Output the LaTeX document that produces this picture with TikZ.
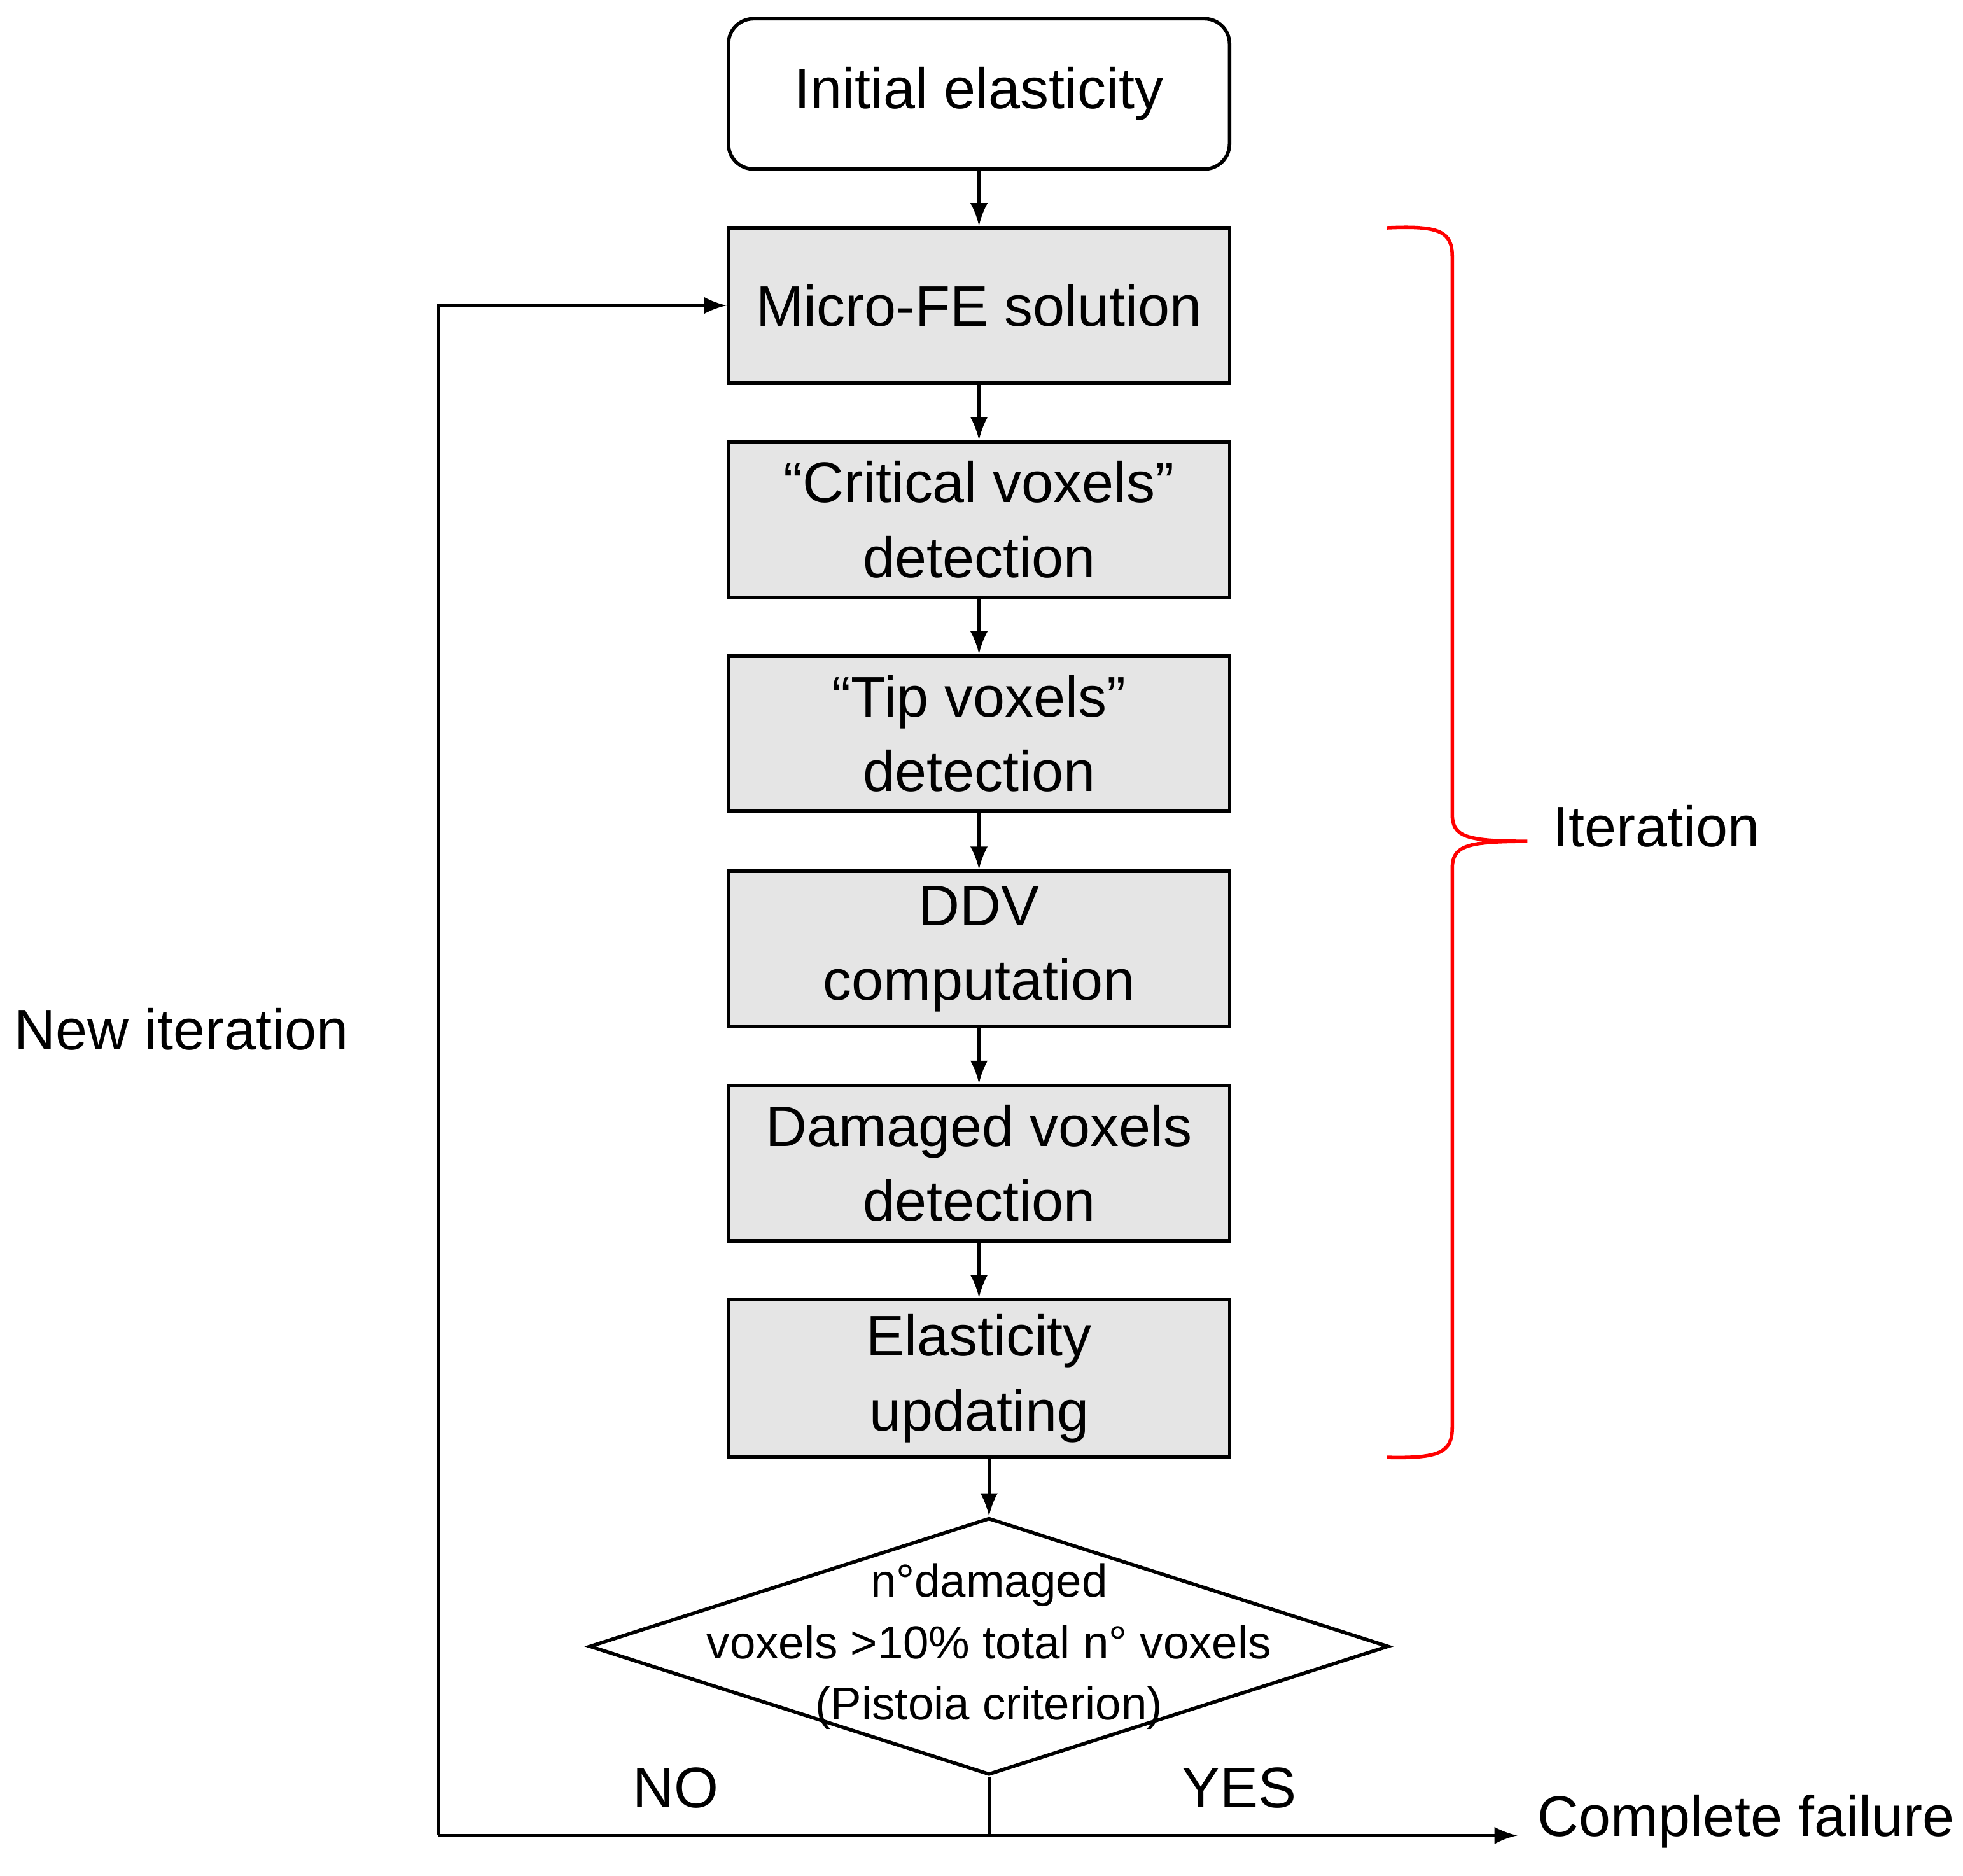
\documentclass[tikz,border=0pt]{standalone}
\usepackage{fontspec}
\setmainfont{Liberation Sans}
\usetikzlibrary{shapes.geometric}
\begin{document}
\begin{tikzpicture}[x = 0.01cm, y = -0.01cm,
	stage/.style = {draw, thick, fill = gray!20, minimum width = 4cm, minimum height = 1.24cm, align = center, font = \fontsize{13}{17}\selectfont},
	arr/.style = {->, >=latex, thick}]
	\useasboundingbox (0, 0) rectangle (1568, 1498);
	
	\node[draw, thick, rounded corners = 0.2cm, minimum width = 4cm, minimum height = 1.2cm, font = \fontsize{13}{17}\selectfont] (init) at (782, 75) {Initial elasticity};
	\node[stage] (fe) at (782, 244) {Micro-FE solution};
	\node[stage] (crit) at (782, 415) {``Critical voxels''\\detection};
	\node[stage] (tip) at (782, 586) {``Tip voxels''\\detection};
	\node[stage] (ddv) at (782, 758) {DDV\\computation};
	\node[stage] (dam) at (782, 929) {Damaged voxels\\detection};
	\node[stage] (upd) at (782, 1101) {Elasticity\\updating};
	\node[draw, thick, diamond, aspect = 3.1, inner sep = 0, minimum width = 6.38cm, minimum height = 2.05cm] (test) at (790, 1315) {};
	\node[align = center, font = \fontsize{10.5}{14}\selectfont] (testtxt) at (test.center) {n°damaged\\voxels >10\% total n° voxels\\(Pistoia criterion)};
	
	\coordinate (join) at (790, 1466);
	\coordinate (corner) at (350, 1466);
	\coordinate (back) at (350, 244);
	\coordinate (end) at (1212, 1466);
	
	\draw[arr] (init) -- (fe);
	\draw[arr] (fe) -- (crit);
	\draw[arr] (crit) -- (tip);
	\draw[arr] (tip) -- (ddv);
	\draw[arr] (ddv) -- (dam);
	\draw[arr] (dam) -- (upd);
	\draw[arr] (upd.south -| test.north) -- (test.north);
	\draw[thick] (test.south) -- (join);
	\draw[arr] (corner) -- (end);
	\draw[arr] (corner) -- (back) -- (fe.west);
	
	\node[font = \fontsize{13}{17}\selectfont] (no) at (540, 1428) {NO};
	\node[font = \fontsize{13}{17}\selectfont] (yes) at (990, 1428) {YES};
	\node[anchor = west, font = \fontsize{13}{17}\selectfont] (fail) at (1216, 1455) {Complete failure};
	\node[font = \fontsize{13}{17}\selectfont] (newit) at (145, 822) {New iteration};
	
	% brace
	\draw[red, thick] (1108, 182) .. controls (1150, 180) and (1160, 185) .. (1160, 205)
		-- (1160, 650) .. controls (1160, 668) and (1170, 672) .. (1220, 672)
		(1160, 694) .. controls (1160, 676) and (1170, 672) .. (1220, 672)
		(1160, 694) -- (1160, 1140) .. controls (1160, 1160) and (1150, 1165) .. (1108, 1164);
	\node[anchor = west, font = \fontsize{13}{17}\selectfont] (iter) at (1228, 660) {Iteration};
\end{tikzpicture}
\end{document}
